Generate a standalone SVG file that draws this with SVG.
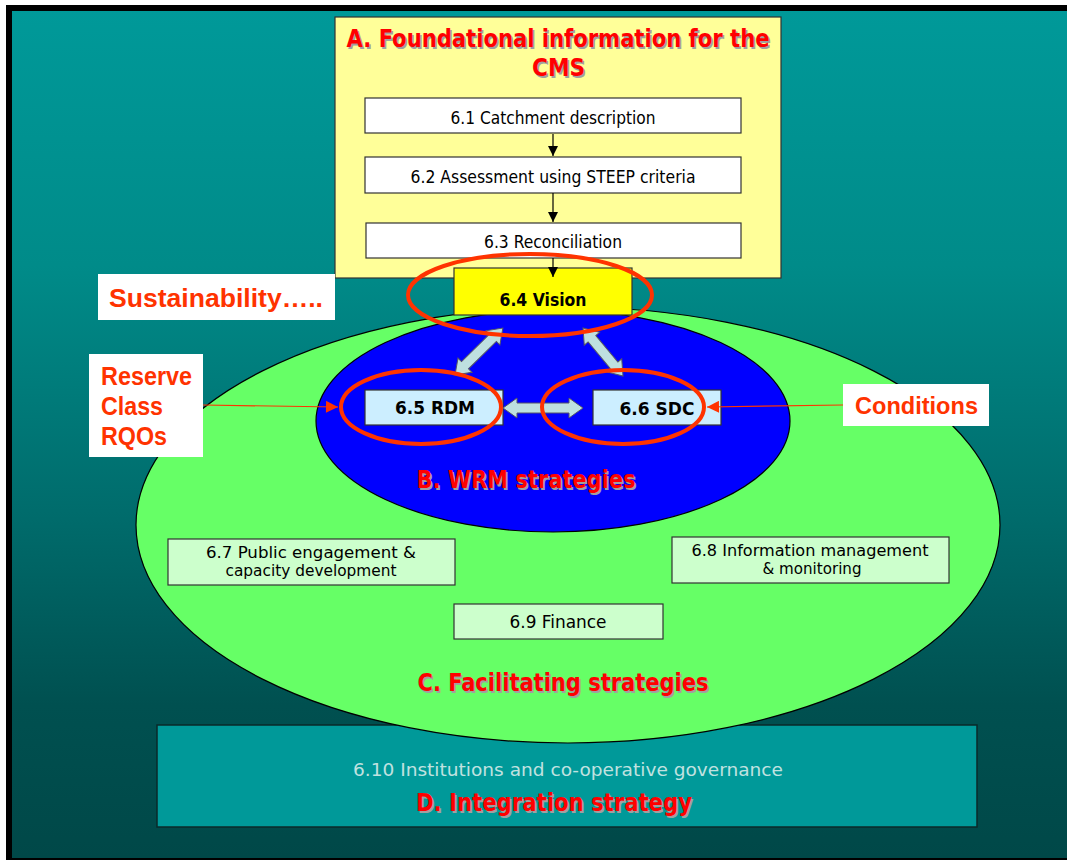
<svg xmlns="http://www.w3.org/2000/svg" width="1067" height="860" viewBox="0 0 1067 860">
  <defs>
    <linearGradient id="bg" x1="0" y1="0" x2="0" y2="1">
      <stop offset="0" stop-color="#009999"/>
      <stop offset="0.3" stop-color="#008B89"/>
      <stop offset="0.6" stop-color="#006B6B"/>
      <stop offset="0.82" stop-color="#005050"/>
      <stop offset="1" stop-color="#004848"/>
    </linearGradient>
    <marker id="blk" viewBox="0 0 10 10" refX="10" refY="5" markerWidth="10" markerHeight="10" markerUnits="userSpaceOnUse" orient="auto">
      <path d="M0,0 L10,5 L0,10 Z" fill="#000"/>
    </marker>
    <marker id="red" viewBox="0 0 10 10" refX="10" refY="5" markerWidth="14" markerHeight="12" markerUnits="userSpaceOnUse" orient="auto">
      <path d="M0,0 L10,5 L0,10 Z" fill="#FF3300"/>
    </marker>
  </defs>
  <style>
    .body { font-family: "DejaVu Sans Condensed", "DejaVu Sans", sans-serif; font-size: 17px; fill: #000; text-anchor: middle; }
    .two { font-size: 15.5px; }
    .bold { font-weight: bold; }
    .title { font-family: "DejaVu Sans Condensed", "DejaVu Sans", sans-serif; font-weight: bold; font-size: 25px; text-anchor: middle; }
    .title .sh { fill: #A0A0A0; }
    .title .fg { fill: #FF0000; }
    .call { font-family: "Liberation Sans", Arial, sans-serif; font-weight: bold; fill: #FF3300; }
    .box { stroke: #333; stroke-width: 1.2; }
    .ring { fill: none; stroke: #FF3300; stroke-width: 4; }
    .dbl { fill: #BEE0E0; stroke: #556; stroke-width: 1; }
  </style>

  <!-- slide frame -->
  <rect x="0" y="0" width="1067" height="860" fill="#fff"/>
  <rect x="6" y="5" width="1061" height="855" fill="#000"/>
  <rect x="12" y="11" width="1055" height="847" fill="url(#bg)"/>

  <!-- D. integration band -->
  <g id="integration">
    <rect x="157" y="725" width="820" height="102" fill="#009999" stroke="#0a2a2a" stroke-width="1.5"/>
    <text class="body" x="568" y="776" style="fill:#C0E2E0" textLength="430" lengthAdjust="spacingAndGlyphs">6.10  Institutions and co-operative governance</text>
    <g class="title">
      <text class="sh" x="555.5" y="812.5" textLength="276" lengthAdjust="spacingAndGlyphs">D. Integration strategy</text>
      <text class="fg" x="554" y="811" textLength="276" lengthAdjust="spacingAndGlyphs">D. Integration strategy</text>
    </g>
  </g>

  <!-- C. facilitating strategies -->
  <g id="facilitating">
    <ellipse cx="568" cy="525" rx="432" ry="218" fill="#66FF66" stroke="#000" stroke-width="1.2"/>
    <g class="title">
      <text class="sh" x="564.5" y="692.5" textLength="291" lengthAdjust="spacingAndGlyphs">C. Facilitating strategies</text>
      <text class="fg" x="563" y="691" textLength="291" lengthAdjust="spacingAndGlyphs">C. Facilitating strategies</text>
    </g>
  </g>

  <!-- B. WRM strategies -->
  <g id="wrm">
    <ellipse cx="553" cy="421" rx="237" ry="111" fill="#0000FF" stroke="#000" stroke-width="1.2"/>
    <g class="title">
      <text class="sh" x="527.5" y="489.5" textLength="219" lengthAdjust="spacingAndGlyphs">B. WRM strategies</text>
      <text class="fg" x="526" y="488" textLength="219" lengthAdjust="spacingAndGlyphs">B. WRM strategies</text>
    </g>
  </g>

  <g id="n67">
    <rect class="box" x="168" y="539" width="287" height="46" fill="#CCFFCC"/>
    <text class="body two" x="311" y="558" textLength="210" lengthAdjust="spacingAndGlyphs">6.7  Public engagement  &amp;</text>
    <text class="body two" x="311" y="576" textLength="171" lengthAdjust="spacingAndGlyphs">capacity development</text>
  </g>
  <g id="n68">
    <rect class="box" x="672" y="537" width="277" height="46" fill="#CCFFCC"/>
    <text class="body two" x="810" y="556" textLength="237" lengthAdjust="spacingAndGlyphs">6.8  Information management</text>
    <text class="body two" x="812" y="574" textLength="99" lengthAdjust="spacingAndGlyphs">&amp; monitoring</text>
  </g>
  <g id="n69">
    <rect class="box" x="454" y="604" width="209" height="35" fill="#CCFFCC"/>
    <text class="body" x="558" y="628" textLength="97" lengthAdjust="spacingAndGlyphs">6.9  Finance</text>
  </g>

  <!-- A. foundational information -->
  <g id="foundational">
    <rect x="335" y="17" width="446" height="261" fill="#FFFF99" stroke="#333" stroke-width="1.2"/>
    <g class="title">
      <text class="sh" x="559.5" y="48.5" textLength="423" lengthAdjust="spacingAndGlyphs">A. Foundational information for the</text>
      <text class="fg" x="558" y="47" textLength="423" lengthAdjust="spacingAndGlyphs">A. Foundational information for the</text>
      <text class="sh" x="560" y="77.5" textLength="53" lengthAdjust="spacingAndGlyphs">CMS</text>
      <text class="fg" x="558.5" y="76" textLength="53" lengthAdjust="spacingAndGlyphs">CMS</text>
    </g>
  </g>
  <g id="n61">
    <rect class="box" x="365" y="98" width="376" height="35" fill="#fff"/>
    <text class="body" x="553" y="124" textLength="205" lengthAdjust="spacingAndGlyphs">6.1 Catchment description</text>
  </g>
  <g id="n62">
    <rect class="box" x="365" y="157" width="376" height="36" fill="#fff"/>
    <text class="body" x="553" y="183" textLength="285" lengthAdjust="spacingAndGlyphs">6.2 Assessment using STEEP criteria</text>
  </g>
  <g id="n63">
    <rect class="box" x="366" y="223" width="375" height="35" fill="#fff"/>
    <text class="body" x="553" y="248" textLength="138" lengthAdjust="spacingAndGlyphs">6.3 Reconciliation</text>
  </g>
  <g id="n64">
    <rect class="box" x="454" y="268" width="178" height="47" fill="#FFFF00"/>
    <text class="body bold" x="543" y="306" textLength="87" lengthAdjust="spacingAndGlyphs">6.4 Vision</text>
  </g>
  <g id="n65">
    <rect class="box" x="365" y="390" width="138" height="35" fill="#CCEEFF"/>
    <text class="body bold" x="435" y="414" textLength="80" lengthAdjust="spacingAndGlyphs">6.5  RDM</text>
  </g>
  <g id="n66">
    <rect class="box" x="593" y="390" width="128" height="35" fill="#CCEEFF"/>
    <text class="body bold" x="657" y="415" textLength="75" lengthAdjust="spacingAndGlyphs">6.6  SDC</text>
  </g>

  <!-- callout labels -->
  <g id="sustainability">
    <rect x="98" y="274" width="237" height="46" fill="#fff"/>
    <text class="call" x="109" y="307" font-size="26" textLength="214" lengthAdjust="spacingAndGlyphs">Sustainability…..</text>
  </g>
  <g id="reserve">
    <rect x="89" y="354" width="114" height="103" fill="#fff"/>
    <text class="call" x="101" y="385" font-size="25" textLength="91" lengthAdjust="spacingAndGlyphs">Reserve</text>
    <text class="call" x="101" y="415" font-size="25" textLength="62" lengthAdjust="spacingAndGlyphs">Class</text>
    <text class="call" x="101" y="445" font-size="25" textLength="66" lengthAdjust="spacingAndGlyphs">RQOs</text>
  </g>
  <g id="conditions">
    <rect x="843" y="384" width="146" height="42" fill="#fff"/>
    <text class="call" x="855" y="414" font-size="24" textLength="123" lengthAdjust="spacingAndGlyphs">Conditions</text>
  </g>

  <!-- connectors -->
  <g id="connectors">
    <line x1="553" y1="134" x2="553" y2="156" stroke="#000" stroke-width="1.2" marker-end="url(#blk)"/>
    <line x1="553" y1="193" x2="553" y2="222" stroke="#000" stroke-width="1.2" marker-end="url(#blk)"/>
    <line x1="553" y1="258" x2="553" y2="277" stroke="#000" stroke-width="1.2" marker-end="url(#blk)"/>
    <!-- two-way block arrows -->
    <path class="dbl" transform="translate(503,408)" d="M0,0 L14,-10 L14,-5 L66,-5 L66,-10 L80,0 L66,10 L66,5 L14,5 L14,10 Z"/>
    <path class="dbl" transform="translate(455,375) rotate(-44.4)" d="M0,0 L14,-10 L14,-5 L53,-5 L53,-10 L67,0 L53,10 L53,5 L14,5 L14,10 Z"/>
    <path class="dbl" transform="translate(583,328) rotate(50.2)" d="M0,0 L14,-10 L14,-5 L48.5,-5 L48.5,-10 L62.5,0 L48.5,10 L48.5,5 L14,5 L14,10 Z"/>
    <!-- callout pointers -->
    <line x1="203" y1="405" x2="338" y2="407" stroke="#FF3300" stroke-width="1.2" marker-end="url(#red)"/>
    <line x1="843" y1="405" x2="707" y2="407" stroke="#FF3300" stroke-width="1.2" marker-end="url(#red)"/>
  </g>

  <!-- emphasis rings -->
  <g id="rings">
    <ellipse class="ring" cx="530" cy="295" rx="122" ry="41"/>
    <ellipse class="ring" cx="421" cy="407" rx="80" ry="37"/>
    <ellipse class="ring" cx="623" cy="407" rx="81" ry="37"/>
  </g>
</svg>
